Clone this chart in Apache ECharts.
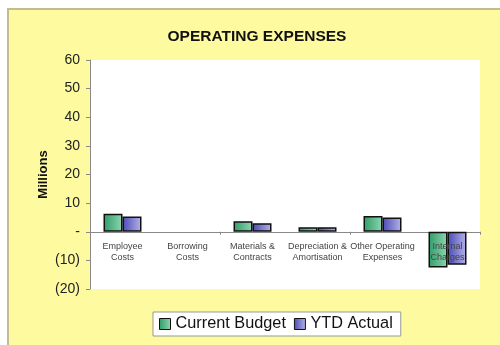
<!DOCTYPE html>
<html><head><meta charset="utf-8">
<script src="https://cdn.jsdelivr.net/npm/echarts@6/dist/echarts.min.js"></script>
<style>
html,body{margin:0;padding:0;background:#fff;}
#frame{position:absolute;left:7px;top:8px;width:493px;height:337px;background:#fdfaa0;border-left:2px solid #c2bd8e;border-top:2px solid #c2bd8e;box-sizing:border-box;}
#c{position:absolute;left:0;top:0;width:500px;height:345px;}
</style></head>
<body>
<div id="frame"></div>
<div id="c"></div>
<script>
var categories = ['Employee\nCosts', 'Borrowing\nCosts', 'Materials &\nContracts', 'Depreciation &\nAmortisation', 'Other Operating\nExpenses', 'Internal\nCharges'];
var currentBudget = [6.3, null, 3.7, 1.6, 5.5, -12.5];
var ytdActual = [5.3, null, 3.0, 1.6, 5.0, -11.5];
var seriesNames = ['Current Budget', 'YTD Actual'];

var font = 'Liberation Sans, Arial, sans-serif';
var chart = echarts.init(document.getElementById('c'), null, {renderer: 'canvas'});
function grad(a, b) {
  return new echarts.graphic.LinearGradient(0, 0, 1, 0, [{offset: 0, color: a}, {offset: 1, color: b}]);
}
chart.setOption({
  backgroundColor: 'transparent',
  animation: false,
  textStyle: {fontFamily: font},
  title: {
    text: 'OPERATING EXPENSES',
    left: 252, textAlign: 'center', top: 24,
    textStyle: {fontSize: 15.5, fontWeight: 'bold', color: '#111', fontFamily: font}
  },
  grid: {left: 90, right: 20, top: 60, bottom: 56, show: true, backgroundColor: '#ffffff', borderWidth: 0},
  legend: {
    data: seriesNames,
    left: 153, top: 312,
    backgroundColor: '#ffffff', borderColor: '#999', borderWidth: 1,
    padding: [4, 8, 4, 6],
    itemWidth: 11, itemHeight: 11, itemGap: 8,
    icon: 'rect',
    itemStyle: {borderColor: '#111', borderWidth: 1},
    textStyle: {fontSize: 16.3, color: '#111', fontFamily: font, padding: [0, 0, 0, 0]}
  },
  xAxis: [
    {
      type: 'category',
      data: categories,
      axisLine: {onZero: true, lineStyle: {color: '#888', width: 1}},
      axisTick: {show: true, length: 3, lineStyle: {color: '#888'}},
      axisLabel: {show: false}
    },
    {
      type: 'category',
      data: categories,
      position: 'bottom',
      offset: -56,
      axisLine: {show: false, onZero: false},
      axisTick: {show: false},
      axisLabel: {fontSize: 9, color: '#444', lineHeight: 11, margin: 8, interval: 0, fontFamily: font},
      z: 10
    }
  ],
  yAxis: {
    type: 'value',
    min: -20, max: 60, interval: 10,
    name: 'Millions',
    nameLocation: 'middle', nameGap: 40, nameRotate: 90,
    nameMoveOverlap: false,
    nameTextStyle: {fontSize: 13, fontWeight: 'bold', color: '#111', fontFamily: font},
    axisLine: {show: true, lineStyle: {color: '#888'}},
    axisTick: {show: true, length: 4, lineStyle: {color: '#888'}},
    splitLine: {show: false},
    axisLabel: {
      fontSize: 14, color: '#222', margin: 10, fontFamily: font,
      formatter: function (v) { return v === 0 ? '-' : (v < 0 ? '(' + (-v) + ')' : String(v)); }
    }
  },
  series: [
    {
      name: seriesNames[0], type: 'bar', data: currentBudget, xAxisIndex: 0,
      barWidth: 19, barGap: '0%',
      itemStyle: {color: grad('#2f9c6a', '#8fd6b0'), borderColor: '#111', borderWidth: 1.5}
    },
    {
      name: seriesNames[1], type: 'bar', data: ytdActual, xAxisIndex: 0,
      barWidth: 19,
      itemStyle: {color: grad('#4a4ab4', '#b4b4ea'), borderColor: '#111', borderWidth: 1.5}
    }
  ]
});
</script>
</body></html>
